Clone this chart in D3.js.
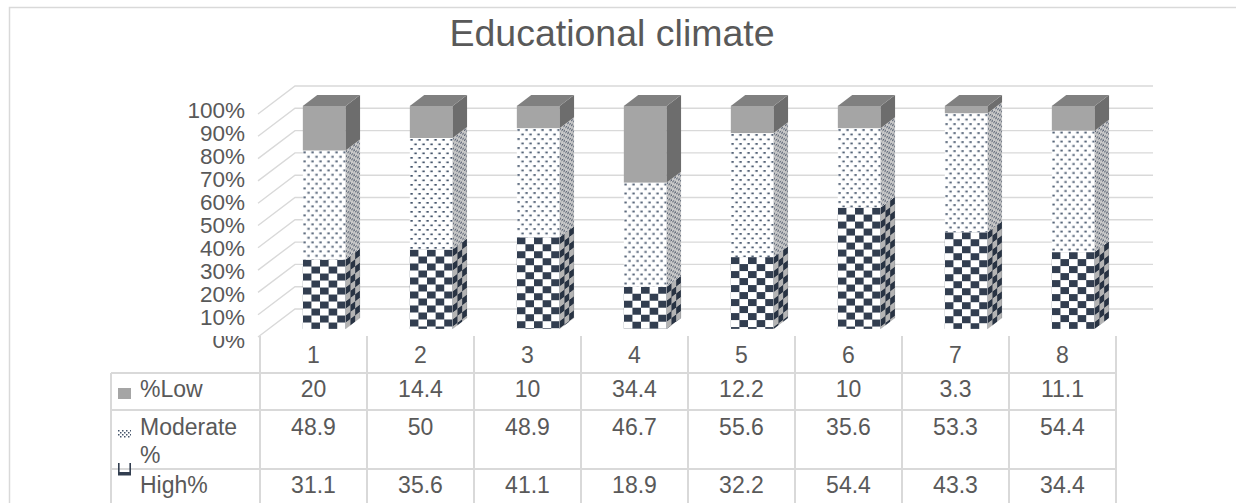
<!DOCTYPE html>
<html lang="en">
<head>
<meta charset="utf-8">
<title>Educational climate</title>
<script src="https://d3js.org/d3.v7.min.js"></script>
<style>
  body { margin: 0; background: #fff; }
  text { font-family: "Liberation Sans", Arial, sans-serif; fill: #595959; }
</style>
</head>
<body>
<svg id="chart" width="1236" height="503"></svg>
<script>
// chart data
let categories = ["1", "2", "3", "4", "5", "6", "7", "8"];
let lowValues = [20, 14.4, 10, 34.4, 12.2, 10, 3.3, 11.1];
let moderateValues = [48.9, 50, 48.9, 46.7, 55.6, 35.6, 53.3, 54.4];
let highValues = [31.1, 35.6, 41.1, 18.9, 32.2, 54.4, 43.3, 34.4];
let seriesNames = ["%Low", "Moderate %", "High%"];
let yTicks = [0, 0.1, 0.2, 0.3, 0.4, 0.5, 0.6, 0.7, 0.8, 0.9, 1];

let svg = d3.select("#chart");
let defs = svg.append("defs");

// depth of the 3d box and of each bar
let DX = 37, DY = 28;
let F1 = 0.29, F2 = 0.68;
let dark = "#323e50";

// patterns
let chk = defs.append("pattern").attr("id", "checker")
    .attr("patternUnits", "userSpaceOnUse").attr("width", 17.2).attr("height", 14);
chk.append("rect").attr("width", 17.2).attr("height", 14).attr("fill", "#fff");
chk.append("rect").attr("width", 8.6).attr("height", 7).attr("fill", dark);
chk.append("rect").attr("x", 8.6).attr("y", 7).attr("width", 8.6).attr("height", 7).attr("fill", dark);

let chkSide = defs.append("pattern").attr("id", "checkerSide")
    .attr("patternUnits", "userSpaceOnUse").attr("width", 10).attr("height", 14);
chkSide.append("rect").attr("width", 10).attr("height", 14).attr("fill", "#b4b4b4");
chkSide.append("rect").attr("width", 5).attr("height", 7).attr("fill", "#283343");
chkSide.append("rect").attr("x", 5).attr("y", 7).attr("width", 5).attr("height", 7).attr("fill", "#283343");

let dots = defs.append("pattern").attr("id", "dots")
    .attr("patternUnits", "userSpaceOnUse").attr("width", 8).attr("height", 9);
dots.append("rect").attr("width", 8).attr("height", 9).attr("fill", "#fff");
dots.append("rect").attr("x", 0.5).attr("y", 1).attr("width", 2.4).attr("height", 1.7).attr("fill", "#44546a");
dots.append("rect").attr("x", 4.5).attr("y", 5.5).attr("width", 2.4).attr("height", 1.7).attr("fill", "#44546a");

let dotsSide = defs.append("pattern").attr("id", "dotsSide")
    .attr("patternUnits", "userSpaceOnUse").attr("width", 4).attr("height", 5);
dotsSide.append("rect").attr("width", 4).attr("height", 5).attr("fill", "#c9c9c9");
dotsSide.append("rect").attr("x", 0).attr("y", 0.5).attr("width", 1.6).attr("height", 1.4).attr("fill", "#4a5568");
dotsSide.append("rect").attr("x", 2).attr("y", 3).attr("width", 1.6).attr("height", 1.4).attr("fill", "#4a5568");

let keyDots = defs.append("pattern").attr("id", "keyDots")
    .attr("patternUnits", "userSpaceOnUse").attr("width", 4).attr("height", 4);
keyDots.append("rect").attr("width", 4).attr("height", 4).attr("fill", "#fff");
keyDots.append("rect").attr("width", 1.5).attr("height", 1.5).attr("fill", "#44546a");
keyDots.append("rect").attr("x", 2).attr("y", 2).attr("width", 1.5).attr("height", 1.5).attr("fill", "#44546a");

// outer border
svg.append("rect").attr("x", 9.5).attr("y", 7.5).attr("width", 1240).attr("height", 510)
    .attr("fill", "none").attr("stroke", "#d9d9d9").attr("stroke-width", 1.5);

// title
svg.append("text").attr("x", 612).attr("y", 46).attr("text-anchor", "middle")
    .style("font-size", "37.5px").text("Educational climate");

// scales
let x = d3.scaleBand().domain(categories).range([260, 1116]).paddingInner(0.6).paddingOuter(0.3);
let col = d3.scaleBand().domain(categories).range([260, 1116]);
let y = d3.scaleLinear().domain([0, 1]).range([337, 114]);
let yLabel = d3.scaleLinear().domain([0, 1]).range([340, 110]);
let fmt = d3.format(".0%");

// back wall and side wall gridlines
let wallX0 = 258, wallX1 = 1153;
svg.append("g").selectAll("polyline").data(yTicks).join("polyline")
    .attr("points", d => [[wallX0, y(d)], [wallX0 + DX, y(d) - DY], [wallX1, y(d) - DY]].join(" "))
    .attr("fill", "none").attr("stroke", "#d9d9d9").attr("stroke-width", 1.4);

// y axis labels
svg.append("clipPath").attr("id", "zeroClip").append("rect")
    .attr("x", 150).attr("y", 336).attr("width", 110).attr("height", 30);
svg.append("g").selectAll("text").data(yTicks).join("text")
    .attr("x", 245).attr("y", d => yLabel(d)).attr("text-anchor", "end")
    .attr("dominant-baseline", "central").style("font-size", "22.5px")
    .attr("clip-path", d => d === 0 ? "url(#zeroClip)" : null)
    .text(d => fmt(d));

// stacked data, normalised to 100%
let rows = categories.map((c, i) => ({ cat: c, high: highValues[i], moderate: moderateValues[i], low: lowValues[i] }));
let stack = d3.stack().keys(["high", "moderate", "low"]).offset(d3.stackOffsetExpand);
let layers = stack(rows);
let styles = {
    high: { front: "url(#checker)", side: "url(#checkerSide)", top: dark },
    moderate: { front: "url(#dots)", side: "url(#dotsSide)", top: "#d0d0d0" },
    low: { front: "#a5a5a5", side: "#6d6d6d", top: "#808080" }
};

let bw = x.bandwidth();
let sdx = (F2 - F1) * DX, sdy = -(F2 - F1) * DY;
let SW = 15;
let bars = svg.append("g");
layers.forEach((layer, li) => {
    let st = styles[layer.key];
    layer.forEach((seg, i) => {
        let cat = categories[i];
        let x0 = x(cat) + F1 * DX;
        let yTop = y(seg[1]) - F1 * DY;
        let h = y(seg[0]) - y(seg[1]);
        if (h <= 0) return;
        // front face
        bars.append("g").attr("transform", `translate(${x0},${yTop})`)
            .append("rect").attr("width", bw).attr("height", h).attr("fill", st.front);
        // side face
        bars.append("g")
            .attr("transform", `matrix(${sdx / SW},${sdy / SW},0,1,${x0 + bw},${yTop})`)
            .append("rect").attr("width", SW).attr("height", h).attr("fill", st.side);
        // top face on the top segment
        if (li === layers.length - 1) {
            bars.append("polygon")
                .attr("points", [[x0, yTop], [x0 + bw, yTop], [x0 + bw + sdx, yTop + sdy], [x0 + sdx, yTop + sdy]].join(" "))
                .attr("fill", st.top);
        }
    });
});

// data table
let lineColor = "#d9d9d9";
let tableLeft = 111, tableRight = 1116;
let rowLines = [373, 410, 469];
let grid = svg.append("g").attr("stroke", lineColor).attr("stroke-width", 2);
rowLines.forEach(ry => grid.append("line").attr("x1", tableLeft).attr("x2", tableRight).attr("y1", ry).attr("y2", ry));
grid.append("line").attr("x1", tableLeft).attr("x2", tableLeft).attr("y1", 373).attr("y2", 503);
let colEdges = categories.map(c => col(c)).concat([col(categories[categories.length - 1]) + col.bandwidth()]);
grid.selectAll(".v").data(colEdges).join("line").attr("class", "v")
    .attr("x1", d => d).attr("x2", d => d).attr("y1", 336).attr("y2", 503);

let cx = c => col(c) + col.bandwidth() / 2;
svg.append("g").selectAll("text").data(categories).join("text")
    .attr("x", cx).attr("y", 363).attr("text-anchor", "middle").style("font-size", "23px").text(d => d);

let tableRows = [
    { values: lowValues, base: 397 },
    { values: moderateValues, base: 435 },
    { values: highValues, base: 493 }
];
tableRows.forEach(r => {
    svg.append("g").selectAll("text").data(r.values).join("text")
        .attr("x", (d, i) => cx(categories[i])).attr("y", r.base).attr("text-anchor", "middle")
        .style("font-size", "23px").text(d => d);
});

// row headers with legend keys
svg.append("rect").attr("x", 118).attr("y", 388).attr("width", 13).attr("height", 11).attr("fill", "#a5a5a5");
svg.append("text").attr("x", 140).attr("y", 397).style("font-size", "23px").text(seriesNames[0]);
svg.append("rect").attr("x", 118).attr("y", 430).attr("width", 13).attr("height", 8).attr("fill", "url(#keyDots)");
svg.append("text").attr("x", 140).attr("y", 435).style("font-size", "23px").text("Moderate");
svg.append("text").attr("x", 140).attr("y", 463).style("font-size", "23px").text("%");
let hk = svg.append("g").attr("fill", dark);
hk.append("rect").attr("x", 118).attr("y", 463).attr("width", 1.6).attr("height", 10);
hk.append("rect").attr("x", 129.4).attr("y", 463).attr("width", 1.6).attr("height", 10);
hk.append("rect").attr("x", 118).attr("y", 472).attr("width", 13).attr("height", 3.5);
svg.append("text").attr("x", 140).attr("y", 493).style("font-size", "23px").text(seriesNames[2]);
</script>
</body>
</html>
